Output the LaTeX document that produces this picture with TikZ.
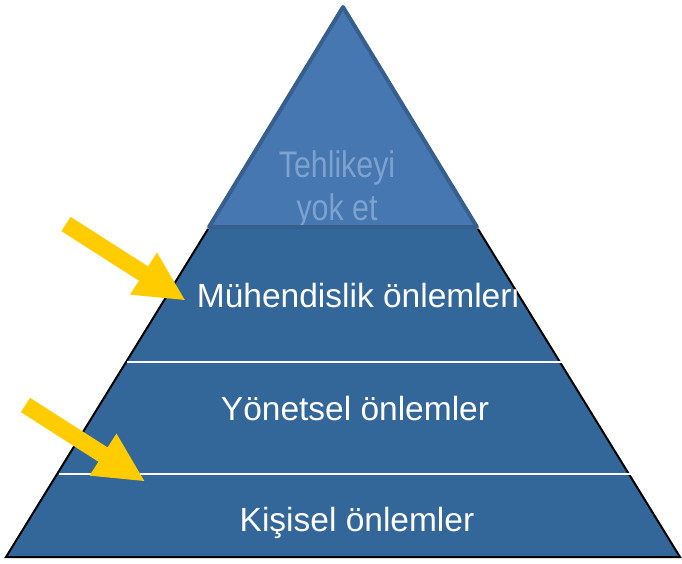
\documentclass[tikz,border=0pt]{standalone}
\usepackage{fontspec}
\setmainfont{Liberation Sans}
\definecolor{lowblue}{HTML}{336699}
\definecolor{topblue}{HTML}{4677B0}
\definecolor{topedge}{HTML}{375F8E}
\definecolor{toptext}{HTML}{7DA2CF}
\definecolor{arrowyellow}{HTML}{FFCC00}
\tikzset{
  tiertext/.style={text=white, font=\fontsize{33.5}{38}\selectfont, inner sep=0pt},
  toplabel/.style={text=toptext, font=\fontsize{37}{43}\selectfont, inner sep=0pt},
  yarrowshape/.style={fill=arrowyellow, draw=none},
  sepline/.style={draw=white, line width=2pt},
}
\begin{document}
\begin{tikzpicture}[x=1pt,y=-1pt]
\useasboundingbox (0,0) rectangle (682,563);
% top triangle
\coordinate (apex) at (343,7);
\coordinate (tl) at (209,227);
\coordinate (tr) at (477,227);
\fill[topblue] (apex) -- (tl) -- (tr) -- cycle;
\begin{scope}
\clip (apex) -- (tl) -- (tr) -- cycle;
\node[toplabel, anchor=base, xscale=0.82] (t1) at (337,177) {Tehlikeyi};
\node[toplabel, anchor=base, xscale=0.82] (t2) at (337,220) {yok et};
\end{scope}
\draw[topedge, line width=4pt, line join=round] (apex) -- (tl) -- (tr) -- cycle;
% lower trapezoid
\coordinate (ql) at (208,229);
\coordinate (qr) at (478,229);
\coordinate (bl) at (6,557);
\coordinate (br) at (680,557);
\fill[lowblue] (ql) -- (bl) -- (br) -- (qr) -- cycle;
\draw[black, line width=2pt, line join=miter] (ql) -- (bl) -- (br) -- (qr);
% separators
\coordinate (s1l) at (127,362);
\coordinate (s1r) at (565,362);
\coordinate (s2l) at (59,474);
\coordinate (s2r) at (631,474);
\draw[sepline] (s1l) -- (s1r);
\draw[sepline] (s2l) -- (s2r);
% labels
\node[tiertext, anchor=base] (m) at (358,307) {Mühendislik önlemleri};
\node[tiertext, anchor=base] (y) at (355,420) {Yönetsel önlemler};
\node[tiertext, anchor=base] (k) at (357,531) {Kişisel önlemler};
% arrows
\foreach \tx/\ty in {66/224, 25.5/405}{
  \fill[yarrowshape, shift={(\tx,\ty)}, rotate=-32.6]
    (0,8.5) -- (92,8.5) -- (92,25) -- (141,0) -- (92,-25) -- (92,-8.5) -- (0,-8.5) -- cycle;
}
\end{tikzpicture}
\end{document}
